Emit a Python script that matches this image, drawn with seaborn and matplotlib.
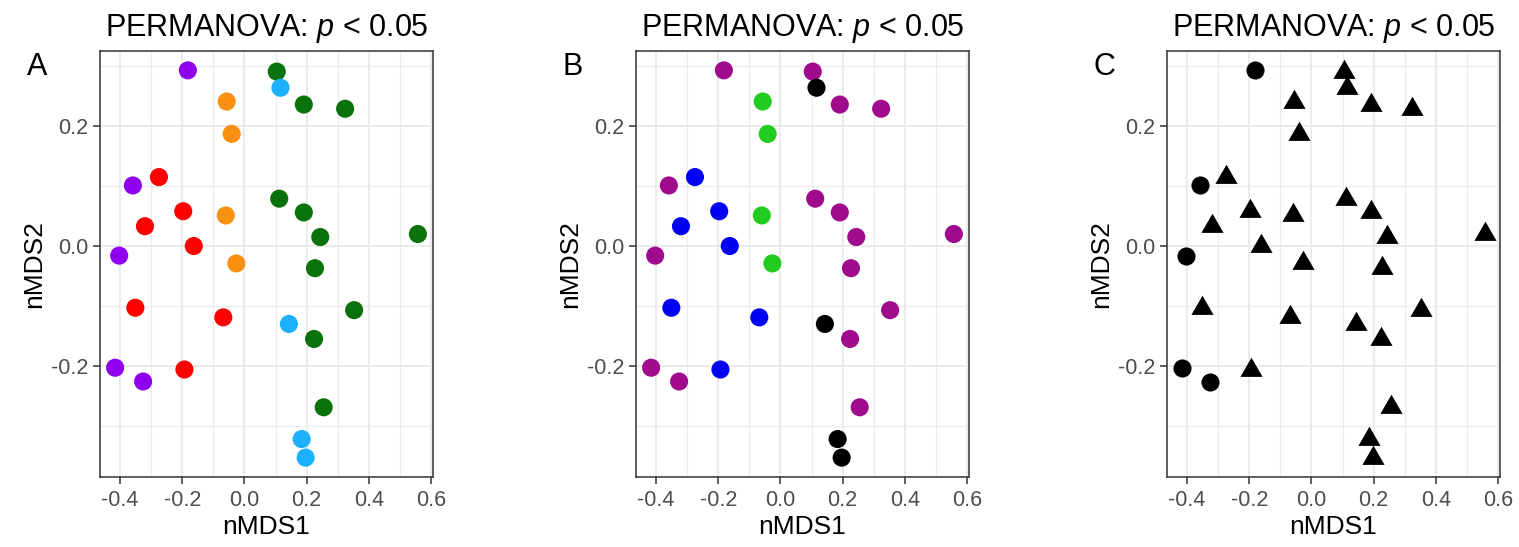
import numpy as np
import pandas as pd
import matplotlib
matplotlib.use("Agg")
import matplotlib.pyplot as plt
from matplotlib.ticker import FixedLocator
import seaborn as sns

# ---------------- data ----------------
nmds1 = [-0.182, -0.359, -0.403, -0.416, -0.326,
         -0.057, -0.041, -0.060, -0.026,
         -0.275, -0.197, -0.320, -0.163, -0.351, -0.068, -0.193,
         0.104, 0.191, 0.324, 0.112, 0.191, 0.244, 0.558, 0.227, 0.353, 0.224, 0.255,
         0.116, 0.143, 0.184, 0.197]
nmds2 = [0.293, 0.101, -0.016, -0.203, -0.226,
         0.241, 0.187, 0.051, -0.029,
         0.115, 0.058, 0.033, 0.000, -0.103, -0.119, -0.206,
         0.291, 0.236, 0.229, 0.079, 0.056, 0.015, 0.020, -0.037, -0.107, -0.155, -0.269,
         0.264, -0.130, -0.322, -0.353]
group_a = (["G1"] * 5 + ["G2"] * 4 + ["G3"] * 7 + ["G4"] * 11 + ["G5"] * 4)
group_b = (["C1"] * 5 + ["C2"] * 4 + ["C3"] * 7 + ["C1"] * 11 + ["C4"] * 4)
group_c = (["circle"] * 5 + ["triangle"] * 26)

palette_a = {"G1": "#8E00EE", "G2": "#FA9012", "G3": "#FF0000", "G4": "#0A720A", "G5": "#1CB0FF"}
palette_b = {"C1": "#A00A8C", "C2": "#22CC1E", "C3": "#0000F5", "C4": "#000000"}

x_ticks = [-0.4, -0.2, 0.0, 0.2, 0.4, 0.6]
y_ticks = [-0.2, 0.0, 0.2]
title_text = "PERMANOVA: $p$ < 0.05"
panel_labels = ["A", "B", "C"]
x_label = "nMDS1"
y_label = "nMDS2"

df = pd.DataFrame({"nMDS1": nmds1, "nMDS2": nmds2,
                   "ga": group_a, "gb": group_b, "gc": group_c})

# ---------------- style ----------------
sns.set_theme(style="white")
plt.rcParams["font.family"] = ["Liberation Sans", "DejaVu Sans"]
plt.rcParams["mathtext.fontset"] = "custom"
plt.rcParams["mathtext.rm"] = "Liberation Sans"
plt.rcParams["mathtext.it"] = "Liberation Sans:italic"
plt.rcParams["axes.unicode_minus"] = False

W, H = 1519, 547
fig = plt.figure(figsize=(W / 100, H / 100), dpi=100)
fig.patch.set_facecolor("white")

lefts_px = [100, 636, 1167]
ax_w_px, ax_h_px = 333, 426
bottom_px = 477

# ggplot-like 5% expansion
xr = max(nmds1) - min(nmds1)
yr = max(nmds2) - min(nmds2)
xlim = (min(nmds1) - 0.05 * xr, max(nmds1) + 0.05 * xr)
ylim = (min(nmds2) - 0.05 * yr, max(nmds2) + 0.05 * yr)

def style_axis(ax):
    ax.set_xlim(*xlim)
    ax.set_ylim(*ylim)
    ax.xaxis.set_major_locator(FixedLocator(x_ticks))
    ax.yaxis.set_major_locator(FixedLocator(y_ticks))
    xm = [(a + b) / 2 for a, b in zip(x_ticks[:-1], x_ticks[1:])]
    ym = [-0.3, -0.1, 0.1, 0.3]
    ax.xaxis.set_minor_locator(FixedLocator(xm))
    ax.yaxis.set_minor_locator(FixedLocator(ym))
    ax.set_xticklabels([f"{v:.1f}" for v in x_ticks])
    ax.set_yticklabels([f"{v:.1f}" for v in y_ticks])
    ax.grid(True, which="major", color="#EBEBEB", linewidth=1.5)
    ax.grid(True, which="minor", color="#EBEBEB", linewidth=0.8)
    ax.set_axisbelow(True)
    for sp in ax.spines.values():
        sp.set_visible(True)
        sp.set_color("#333333")
        sp.set_linewidth(1.1)
    ax.tick_params(axis="both", which="major", direction="out", length=5, width=1.1,
                   color="#333333", labelcolor="#4D4D4D", labelsize=15.5, bottom=True, left=True)
    ax.tick_params(axis="x", which="major", pad=4)
    ax.tick_params(axis="y", which="major", pad=3.5)
    ax.tick_params(axis="both", which="minor", length=0)
    ax.set_xlabel(x_label, fontsize=19, labelpad=3, color="black")
    ax.set_ylabel(y_label, fontsize=19, labelpad=3, color="black")
    ax.set_title(title_text, fontsize=22, pad=10.5, color="black")

axes = []
for i, lp in enumerate(lefts_px):
    ax = fig.add_axes([lp / W, (H - bottom_px) / H, ax_w_px / W, ax_h_px / H])
    axes.append(ax)

circle_s = 170
# Panel A
sns.scatterplot(data=df, x="nMDS1", y="nMDS2", hue="ga", palette=palette_a,
                s=circle_s, linewidth=0, legend=False, ax=axes[0])
# Panel B
sns.scatterplot(data=df, x="nMDS1", y="nMDS2", hue="gb", palette=palette_b,
                s=circle_s, linewidth=0, legend=False, ax=axes[1])
# Panel C
tri = [(-1.0, -0.577), (1.0, -0.577), (0.0, 1.155)]
sns.scatterplot(data=df[df["gc"] == "circle"], x="nMDS1", y="nMDS2", color="black",
                marker="o", s=circle_s, linewidth=0, legend=False, ax=axes[2])
sns.scatterplot(data=df[df["gc"] == "triangle"], x="nMDS1", y="nMDS2", color="black",
                marker=tri, s=340, linewidth=0, legend=False, ax=axes[2])

for ax in axes:
    style_axis(ax)

for lp, lab in zip(lefts_px, panel_labels):
    fig.text((lp - 63) / W, (H - 75) / H, lab, fontsize=22, ha="center", va="baseline",
             color="black")

fig.savefig("out.png", dpi=100, facecolor="white")
